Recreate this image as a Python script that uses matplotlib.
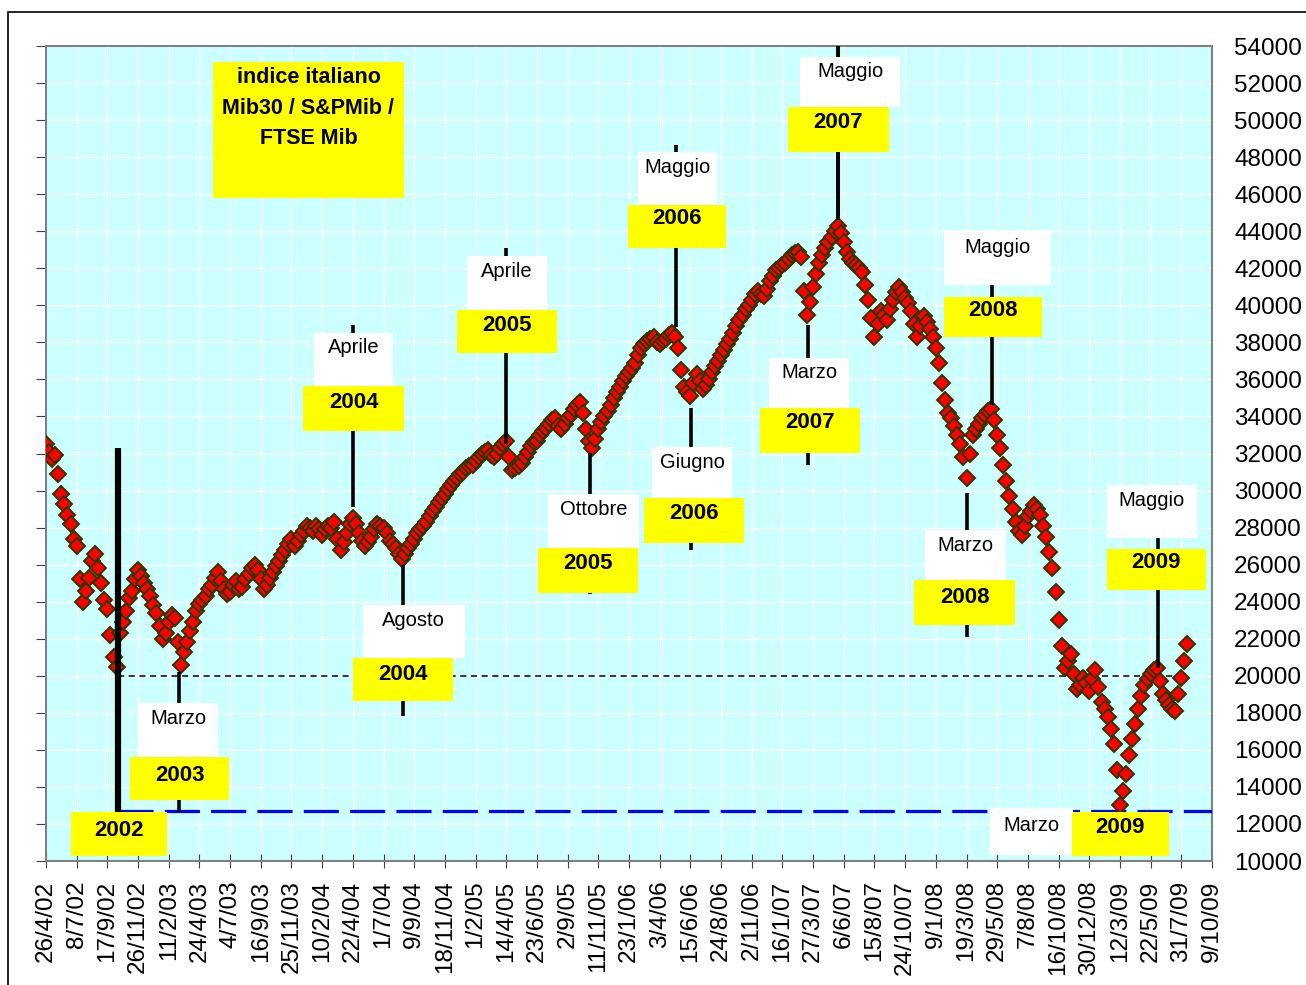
import numpy as np
import matplotlib
matplotlib.use("Agg")
import matplotlib.pyplot as plt
from matplotlib.patches import Rectangle

plt.rcParams['font.family'] = ['Liberation Sans', 'DejaVu Sans']

# etichette asse x (una ogni 50 sedute)
tick_dates = ["26/4/02", "8/7/02", "17/9/02", "26/11/02", "11/2/03", "24/4/03", "4/7/03",
              "16/9/03", "25/11/03", "10/2/04", "22/4/04", "1/7/04", "9/9/04", "18/11/04",
              "1/2/05", "14/4/05", "23/6/05", "2/9/05", "11/11/05", "23/1/06", "3/4/06",
              "15/6/06", "24/8/06", "2/11/06", "16/1/07", "27/3/07", "6/6/07", "15/8/07",
              "24/10/07", "9/1/08", "19/3/08", "29/5/08", "7/8/08", "16/10/08", "30/12/08",
              "12/3/09", "22/5/09", "31/7/09", "9/10/09"]

# chiusure dell'indice, una ogni 5 sedute
mib = [32500, 32100, 31700, 31900, 30900, 29800, 29300, 28700, 28200, 27400,
       27000, 25200, 24000, 24600, 25300, 26200, 26600, 25800, 25000, 24100,
       23600, 22200, 21000, 20500, 22300, 22900, 23500, 24200, 24600, 25200,
       25700, 25400, 25000, 24700, 24300, 23800, 23400, 22700, 22000, 22300,
       22900, 23300, 23100, 21800, 20600, 21300, 21800, 22400, 22900, 23500,
       23900, 24100, 24300, 24700, 24900, 25300, 25600, 25100, 24700, 24400,
       24500, 24900, 25100, 24700, 24800, 25200, 25500, 25800, 26000, 25700,
       25200, 24700, 24900, 25300, 25600, 25900, 26200, 26500, 26800, 27100,
       27400, 27000, 27300, 27600, 27800, 28100, 28000, 27800, 28100, 27900,
       27600, 27900, 28100, 28000, 28300, 27400, 26800, 27200, 27700, 28200,
       28500, 28200, 27700, 27300, 27000, 27200, 27500, 27900, 28200, 28100,
       28000, 27700, 27300, 27100, 26900, 26600, 26300, 26600, 26900, 27100,
       27400, 27700, 27900, 28100, 28300, 28600, 28900, 29100, 29400, 29600,
       29800, 30100, 30300, 30500, 30700, 30900, 31000, 31200, 31300, 31400,
       31600, 31800, 32000, 32100, 32200, 31900, 31800, 32000, 32300, 32500,
       32700, 31800, 31100, 31200, 31300, 31500, 31800, 32100, 32400, 32600,
       32700, 33000, 33200, 33400, 33600, 33800, 33900, 33500, 33300, 33600,
       33900, 34100, 34400, 34600, 34800, 34200, 33300, 32700, 32300, 32800,
       33300, 33700, 34000, 34300, 34600, 35000, 35300, 35600, 35900, 36200,
       36400, 36600, 36900, 37300, 37700, 37900, 38100, 38200, 38300, 38000,
       37900, 38100, 38200, 38400, 38500, 38300, 37700, 36500, 35600, 35300,
       35100, 35800, 36300, 35900, 35500, 35700, 36000, 36400, 36700, 37000,
       37300, 37600, 37900, 38200, 38500, 38900, 39200, 39500, 39800, 40000,
       40300, 40600, 40800, 40600, 40500, 40900, 41300, 41600, 41900, 42000,
       42200, 42300, 42500, 42700, 42800, 42900, 42600, 40800, 39500, 40200,
       41000, 41700, 42300, 42700, 43100, 43400, 43700, 44000, 44300, 43900,
       43400, 42900, 42500, 42300, 42200, 42000, 41800, 41100, 40300, 39300,
       38300, 39000, 39700, 39500, 39200, 39800, 40300, 40700, 41000, 40700,
       40400, 40100, 39700, 39000, 38300, 38900, 39400, 39100, 38700, 38300,
       37700, 36900, 35800, 34900, 34200, 33900, 33500, 33000, 32500, 31800,
       30700, 32000, 33000, 33300, 33600, 33900, 34100, 34300, 34400, 33800,
       33000, 32300, 31400, 30500, 29700, 29000, 28300, 27800, 27600, 28100,
       28600, 28900, 29200, 29000, 28700, 28100, 27500, 26700, 25800, 24500,
       23000, 21600, 20400, 20800, 21200, 20100, 19300, 19500, 19900, 19600,
       19200, 19800, 20300, 19400, 18600, 18200, 17800, 17100, 16300, 14900,
       13000, 13800, 14700, 15700, 16600, 17400, 18200, 18900, 19500, 19800,
       20100, 20300, 20400, 19700, 19000, 18700, 18400, 18200, 18100, 19000,
       19900, 20800, 21700]
step = 5

support_2002 = 20000   # linea tratteggiata nera
support_2009 = 12700   # linea tratteggiata blu

# annotazioni: (x linea, y0, y1, spessore, mese, box bianco, y mese, anno, box giallo, y anno)
notes = [
    (117.5, 12650, 32300, 4.5, None, None, None, "2002", (40.8, 197.5, 10270, 12650), 11650),
    (217, 12650, 20200, 2.6, "Marzo", (150, 281, 15620, 18530), 17720, "2003", (137, 299, 13290, 15620), 14640),
    (501, 29110, 38940, 2.6, "Aprile", (436, 566, 35650, 38510), 37700, "2004", (419.5, 583, 33220, 35650), 34750),
    (581, 17830, 25980, 2.6, "Agosto", (516, 682, 20960, 23820), 22960, "2004", (499.5, 663, 18640, 20960), 20060),
    (749, 32510, 43100, 2.6, "Aprile", (685.6, 816, 39750, 42660), 41800, "2005", (669, 832.5, 37430, 39750), 38900),
    (886, 24420, 32030, 2.6, "Ottobre", (818, 966, 26900, 29810), 28950, "2005", (801.5, 965, 24470, 26900), 26050),
    (1027, 38830, 48660, 2.6, "Maggio", (964.7, 1093.7, 45420, 48280), 47420, "2006", (948, 1108, 43100, 45420), 44680),
    (1051, 26790, 34460, 2.6, "Giugno", (987.6, 1118, 29600, 32350), 31540, "2006", (974.5, 1138, 27170, 29600), 28750),
    (1291, 44610, 54000, 2.8, "Maggio", (1229, 1392, 50710, 53410), 52650, "2007", (1209.6, 1373, 48280, 50710), 49850),
    (1242, 31380, 38940, 2.6, "Marzo", (1178.6, 1309, 34460, 37160), 36400, "2007", (1164, 1327, 32030, 34460), 33650),
    (1541, 34620, 41100, 2.6, "Maggio", (1462.6, 1637, 41100, 44070), 43100, "2008", (1462.6, 1622.6, 38290, 40450), 39700),
    (1500, 22090, 29870, 2.6, "Marzo", (1431.6, 1564, 25170, 27870), 27060, "2008", (1415, 1578.5, 22740, 25170), 24220),
    (1812, 20420, 27440, 2.6, "Maggio", (1728.7, 1875.6, 27440, 30300), 29440, "2009", (1728.7, 1890, 24630, 26850), 26120),
    (None, None, None, 0, "Marzo", (1539, 1673, 10320, 12860), 11940, "2009", (1671.6, 1830, 10270, 12650), 11800),
]

fig = plt.figure(figsize=(13.06, 9.85), dpi=100)
ax = fig.add_axes([46/1306, 1-861/985, (1212-46)/1306, (861-46)/985])

ax.set_facecolor('#CCFFFF')
ax.set_xlim(0, 1900)
ax.set_ylim(10000, 54000)
ax.set_xticks(np.arange(0, 1901, 50))
ax.set_xticklabels(tick_dates, rotation=90, fontsize=17.5)
ax.set_yticks(np.arange(10000, 54001, 2000))
ax.set_yticklabels([str(v) for v in range(10000, 54001, 2000)], fontsize=17.5)
ax.grid(color='white', lw=1)
ax.set_axisbelow(True)
ax.tick_params(axis='x', direction='inout', length=10, color='#404040', pad=9)
ax.tick_params(axis='y', left=True, right=False, labelleft=False, labelright=True,
               direction='out', length=7, color='#404040', pad=9)
for sp in ax.spines.values():
    sp.set_color('#808080')
    sp.set_linewidth(1.5)

x = np.arange(len(mib)) * step
ax.plot(x, mib, ls='none', marker='D', ms=8.5, mfc='#FF0000', mec='#333300', mew=1.4, zorder=4)

ax.plot([117.5, x[-1]], [support_2002, support_2002], color='black', lw=1.1,
        ls=(0, (4, 3)), zorder=3)
ax.plot([117.5, 1900], [support_2009, support_2009], color='#0000FF', lw=2.3,
        ls=(0, (11, 3.5)), zorder=3)


def box(b, color):
    ax.add_patch(Rectangle((b[0], b[2]), b[1]-b[0], b[3]-b[2], fc=color, ec='none', zorder=6))


for lx, ly0, ly1, lw, month, wb, my, year, yb, yy in notes:
    if lx is not None:
        ax.plot([lx, lx], [ly0, ly1], color='black', lw=lw, zorder=5, solid_capstyle='butt')
    if month:
        box(wb, 'white')
        ax.text((wb[0]+wb[1])/2, my, month, ha='center', va='center', fontsize=14.5, zorder=7)
    box(yb, '#FFFF00')
    ax.text((yb[0]+yb[1])/2, yy, year, ha='center', va='center', fontsize=16,
            fontweight='bold', zorder=7)

# riquadro del titolo
box((272.6, 582.8, 45800, 53140), '#FFFF00')
ax.text(427.7, 50650, "indice italiano\nMib30 / S&PMib /\nFTSE Mib", ha='center', va='center',
        fontsize=15.5, fontweight='bold', linespacing=1.6, zorder=7)

fig.add_artist(Rectangle((8/1306, -0.1), 1.2, 1-12/985+0.1, transform=fig.transFigure,
                         fill=False, ec='black', lw=1.2))

fig.savefig('out.png', dpi=100, facecolor='white')
